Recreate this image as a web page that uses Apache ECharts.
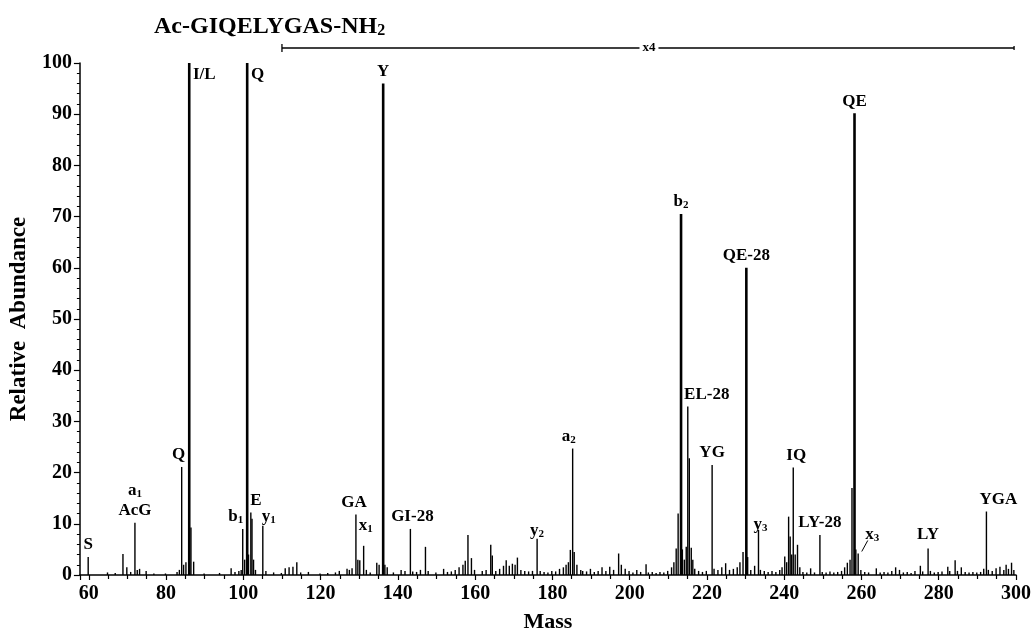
<!DOCTYPE html>
<html>
<head>
<meta charset="utf-8">
<script src="https://cdn.jsdelivr.net/npm/echarts@6/dist/echarts.min.js"></script>
<style>
  html, body { margin: 0; padding: 0; background: #fff; }
  #chart { width: 1034px; height: 638px; }
</style>
</head>
<body>
<div id="chart"></div>
<script>
// peaks: [mass, relative abundance]
var spectrum = [
  [60, 3.5], [65, 0.5], [67, 0.4], [69, 4.1], [70, 1.5], [71, 0.6], [72.1, 10.2], [72.7, 1.0],
  [73.3, 1.2], [75, 0.8], [77, 0.3], [80, 0.3], [83, 0.6], [83.6, 1.0], [84.2, 21.1], [84.7, 2.0],
  [85.3, 2.5], [86, 100], [86.6, 9.3], [87.3, 2.6], [90, 0.3], [94, 0.4], [97, 1.3], [98, 0.6],
  [99, 0.8], [99.6, 1.0], [100, 9.0], [100.5, 3.0], [101, 100], [101.5, 4.0], [102.1, 12.2],
  [102.4, 11], [102.8, 3], [103.3, 1.0], [105.2, 9.6], [106, 0.8], [108, 0.5], [110, 0.4],
  [111, 1.3], [112, 1.5], [113, 1.6], [114, 2.5], [115, 0.5], [117, 0.6], [120, 0.3], [122, 0.4],
  [124, 0.5], [125, 0.8], [127, 1.2], [127.6, 1.0], [128.3, 1.3], [129.3, 11.8], [129.8, 3.0],
  [130.3, 2.9], [131.3, 5.7], [132, 1.0], [133, 0.5], [134.7, 2.4], [135.3, 2.0], [136.2, 96],
  [136.8, 2.0], [137.4, 1.5], [139, 0.5], [141, 1.0], [142, 0.8], [143.4, 9.0], [144, 0.7],
  [145, 0.6], [146, 1.0], [147.3, 5.5], [148, 0.8], [150, 0.5], [152, 1.2], [153, 0.6], [154, 0.7],
  [155, 1.0], [156, 1.5], [157, 2.0], [157.6, 2.8], [158.3, 7.8], [159.2, 3.3], [160, 1.0],
  [162, 0.8], [163, 1.0], [164.2, 5.9], [164.6, 3.8], [165.5, 0.8], [166.5, 1.2], [167.5, 1.8],
  [168.2, 2.9], [169, 1.8], [169.8, 2.2], [170.5, 2.0], [171.1, 3.4], [172, 1.0], [173, 0.8],
  [174, 0.7], [175, 0.8], [176.2, 7.1], [177, 0.8], [178, 0.6], [179, 0.5], [180, 0.8], [181, 0.7],
  [182, 1.2], [183, 1.5], [183.7, 2.0], [184.3, 2.5], [184.8, 4.9], [185.4, 24.7], [185.8, 4.5],
  [186.5, 2.0], [187.5, 1.0], [188, 0.8], [189, 0.7], [190, 1.2], [191, 0.6], [192, 0.8],
  [193, 1.5], [194, 0.8], [195, 1.6], [196, 1.0], [197.3, 4.2], [198, 2.0], [199, 1.2], [200, 0.8],
  [201, 0.5], [202, 1.0], [203, 0.6], [204.4, 2.1], [205, 0.5], [206, 0.6], [207, 0.4], [208, 0.6],
  [209, 0.5], [210, 0.8], [211, 1.5], [211.6, 2.5], [212.2, 5.2], [212.7, 12], [213.3, 70.5],
  [213.8, 5], [214.3, 3.0], [214.8, 5.5], [215.2, 32.9], [215.6, 22.8], [216.1, 5.3], [216.5, 3.0],
  [217, 1.2], [218, 0.8], [219, 0.6], [220, 0.8], [221.5, 21.5], [222, 1.2], [223, 1.0], [224, 1.5],
  [225, 2.3], [226, 1.0], [227, 1.2], [228, 1.5], [228.7, 2.5], [229.5, 4.5], [230.2, 60],
  [230.7, 3.5], [231.5, 1.0], [232.5, 1.8], [233.5, 8.8], [234, 1.0], [235, 0.8], [236, 0.6],
  [237, 0.8], [238, 0.6], [239, 1.0], [239.6, 1.5], [240.3, 3.6], [240.8, 2.5], [241.3, 11.4],
  [241.7, 7.5], [242.1, 4.0], [242.5, 21.0], [243, 4.0], [243.6, 5.9], [244.2, 1.5], [245, 0.6],
  [246, 0.5], [247, 1.3], [248, 0.5], [249.4, 7.8], [250, 0.6], [251, 0.5], [252, 0.7], [253, 0.5],
  [254, 0.6], [255, 0.8], [255.8, 1.5], [256.5, 2.4], [257.2, 3.0], [257.7, 17], [258.2, 90.2],
  [258.7, 5], [259.3, 4.2], [260, 1.0], [261, 0.6], [262, 0.5], [264, 1.3], [265, 0.5], [266, 0.6],
  [267, 0.5], [268, 0.8], [269, 1.5], [270, 1.0], [271, 0.5], [272, 0.6], [273, 0.4], [274, 0.8],
  [275.4, 1.8], [276, 0.7], [277.4, 5.2], [278, 0.8], [279, 0.5], [280, 0.6], [281, 0.7],
  [282.5, 1.6], [283, 0.8], [284.4, 2.9], [285, 0.8], [286, 1.5], [287, 0.6], [288, 0.5], [289, 0.6],
  [290, 0.5], [291, 0.6], [291.8, 1.2], [292.5, 12.4], [293, 1.0], [294, 0.8], [295, 1.3],
  [296, 1.6], [297, 1.0], [297.6, 2.0], [298.2, 1.2], [299, 2.4], [299.6, 1.0]
];

// the big ones are drawn a bit thicker
var strongPeaks = [86, 101, 136.2, 213.3, 230.2, 258.2];

// fragment annotations, {s|..} is a subscript
var peakLabels = [
  [60, 'S'], [72.1, 'a{s|1}\nAcG'], [84.2, 'Q'], [86, 'I/L'], [100, 'b{s|1}'], [101, 'Q'],
  [102.1, 'E'], [105.2, 'y{s|1}'], [129.3, 'GA'], [131.3, 'x{s|1}'], [136.2, 'Y'],
  [143.4, 'GI-28'], [176.2, 'y{s|2}'], [185.4, 'a{s|2}'], [213.3, 'b{s|2}'], [215.2, 'EL-28'],
  [221.5, 'YG'], [230.2, 'QE-28'], [233.5, 'y{s|3}'], [242.5, 'IQ'], [249.4, 'LY-28'],
  [258.2, 'QE'], [259.3, 'x{s|3}'], [277.4, 'LY'], [292.5, 'YGA']
];

var xTickLabels = [60, 80, 100, 120, 140, 160, 180, 200, 220, 240, 260, 280, 300];
var yTickLabels = [0, 10, 20, 30, 40, 50, 60, 70, 80, 90, 100];

// x4 magnified region
var zoomFrom = 110;
var zoomTo = 299.5;
var zoomText = 'x4';

var font = '"Liberation Serif", "Times New Roman", serif';
var subStyle = { fontFamily: font, fontWeight: 'bold', fontSize: 11, color: '#000', padding: [7, 0, 0, 0] };

// where labels sit relative to their peak
var labelPlace = {
  '84.2': { offset: [-3, 0] },
  '86': { position: [5, 2], align: 'left', verticalAlign: 'top' },
  '101': { position: [5, 2], align: 'left', verticalAlign: 'top' },
  '100': { offset: [-7, 0] },
  '102.1': { offset: [5, 0] },
  '105.2': { offset: [6, 3] },
  '129.3': { offset: [-2, 0] },
  '131.3': { offset: [2, -8] },
  '143.4': { offset: [2, 0] },
  '176.2': { offset: [0, 4] },
  '185.4': { offset: [-4, 0] },
  '215.2': { offset: [19, 0] },
  '233.5': { offset: [2, 7] },
  '242.5': { offset: [3, 0] },
  '259.3': { offset: [14, -7] },
  '277.4': { offset: [0, -2] },
  '292.5': { offset: [12, 0] }
};

function toItem(p) {
  var item = { value: p };
  var lab = peakLabels.filter(function (l) { return l[0] === p[0]; })[0];
  if (lab) {
    var place = labelPlace[String(p[0])] || {};
    item.label = Object.assign({
      show: true,
      position: 'top',
      distance: 2,
      formatter: lab[1],
      fontFamily: font,
      fontWeight: 'bold',
      fontSize: 17,
      lineHeight: 20,
      color: '#000',
      rich: { s: subStyle }
    }, place);
  }
  return item;
}

var thin = spectrum.filter(function (p) { return strongPeaks.indexOf(p[0]) < 0; }).map(toItem);
var thick = spectrum.filter(function (p) { return strongPeaks.indexOf(p[0]) >= 0; }).map(toItem);

var chart = echarts.init(document.getElementById('chart'));
chart.setOption({
  backgroundColor: '#fff',
  animation: false,
  title: {
    text: 'Ac-GIQELYGAS-NH{s|2}',
    left: 149,
    top: 9,
    textStyle: {
      fontFamily: font,
      fontWeight: 'bold',
      fontSize: 24,
      color: '#000',
      rich: { s: { fontFamily: font, fontWeight: 'bold', fontSize: 16, color: '#000', padding: [9, 0, 0, 0] } }
    }
  },
  grid: { left: 77, right: 9, top: 63, bottom: 63 },
  xAxis: {
    type: 'value',
    min: 57.7,
    max: 300,
    splitNumber: 12,
    name: 'Mass',
    nameLocation: 'middle',
    nameGap: 36,
    nameTextStyle: { fontFamily: font, fontWeight: 'bold', fontSize: 22, color: '#000' },
    axisLine: { lineStyle: { color: '#000', width: 1.5 } },
    axisTick: { length: 5, lineStyle: { color: '#000', width: 1.2 } },
    minorTick: { show: true, splitNumber: 4, length: 4, lineStyle: { color: '#000', width: 1.2 } },
    splitLine: { show: false },
    axisLabel: {
      margin: 9,
      fontFamily: font,
      fontWeight: 'bold',
      fontSize: 20,
      color: '#000',
      formatter: function (v) { return xTickLabels.indexOf(v) >= 0 ? String(v) : ''; }
    }
  },
  yAxis: {
    type: 'value',
    min: 0,
    max: 100,
    interval: 10,
    name: 'Relative  Abundance',
    nameLocation: 'middle',
    nameGap: 46,
    nameTextStyle: { fontFamily: font, fontWeight: 'bold', fontSize: 23, color: '#000' },
    axisLine: { show: true, lineStyle: { color: '#000', width: 1.5 } },
    axisTick: { show: true, length: 6, lineStyle: { color: '#000', width: 1.2 } },
    minorTick: { show: true, splitNumber: 5, length: 3, lineStyle: { color: '#000', width: 1 } },
    splitLine: { show: false },
    axisLabel: {
      margin: 8,
      fontFamily: font,
      fontWeight: 'bold',
      fontSize: 20,
      color: '#000',
      formatter: function (v) { return yTickLabels.indexOf(v) >= 0 ? String(v) : ''; }
    }
  },
  series: [
    {
      name: 'peaks',
      type: 'bar',
      barWidth: 1.4,
      barGap: '-100%',
      itemStyle: { color: '#000' },
      data: thin
    },
    {
      name: 'major',
      type: 'bar',
      barWidth: 2.6,
      barGap: '-100%',
      itemStyle: { color: '#000' },
      data: thick
    }
  ]
});

// "x4" bracket and the little pointer for x3
var a = chart.convertToPixel({ xAxisIndex: 0 }, zoomFrom);
var b = chart.convertToPixel({ xAxisIndex: 0 }, zoomTo);
var mid = chart.convertToPixel({ xAxisIndex: 0 }, 205);
var x3 = chart.convertToPixel({ gridIndex: 0 }, [259.3, 4.2]);
var lineStyle = { stroke: '#000', lineWidth: 1.3 };
chart.setOption({
  graphic: [
    { type: 'line', shape: { x1: a, y1: 48, x2: b, y2: 48 }, style: lineStyle },
    { type: 'line', shape: { x1: a, y1: 44, x2: a, y2: 52 }, style: lineStyle },
    { type: 'line', shape: { x1: b, y1: 46, x2: b, y2: 50 }, style: lineStyle },
    {
      type: 'text', x: mid, y: 48,
      style: {
        text: zoomText, fill: '#000', font: 'bold 13px ' + font,
        align: 'center', verticalAlign: 'middle', backgroundColor: '#fff', padding: [0, 3]
      }
    },
    { type: 'line', shape: { x1: x3[0] + 3, y1: x3[1] - 2, x2: x3[0] + 9, y2: x3[1] - 13 }, style: { stroke: '#000', lineWidth: 1 } }
  ]
});
</script>
</body>
</html>
